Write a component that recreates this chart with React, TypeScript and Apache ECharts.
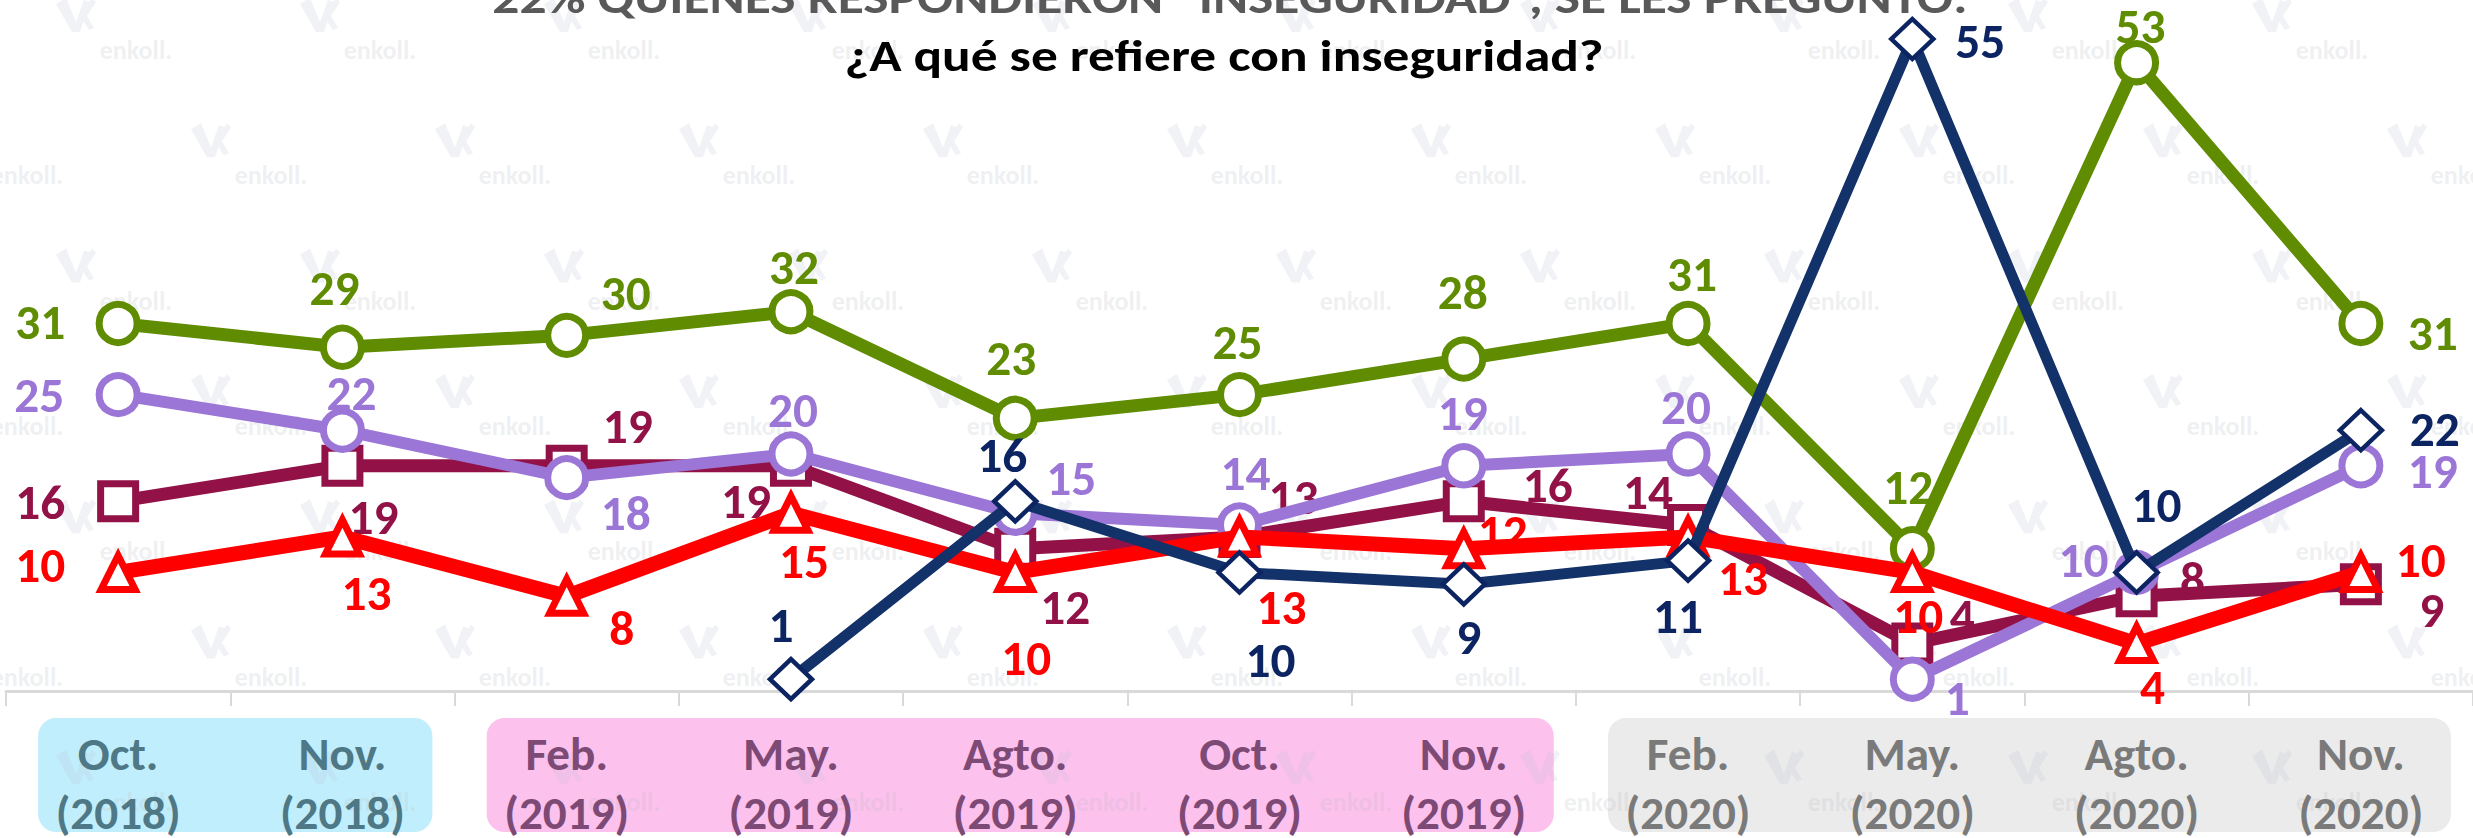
import React, { useEffect, useRef } from "react";
import * as echarts from "echarts";

// ---------- data ----------
const monthLabels = ["Oct.", "Nov.", "Feb.", "May.", "Agto.", "Oct.", "Nov.", "Feb.", "May.", "Agto.", "Nov."];
const yearLabels = ["(2018)", "(2018)", "(2019)", "(2019)", "(2019)", "(2019)", "(2019)", "(2020)", "(2020)", "(2020)", "(2020)"];
const categories = monthLabels.map((m, i) => m + " " + yearLabels[i]);
const yearGroupOfCategory = [0, 0, 1, 1, 1, 1, 1, 2, 2, 2, 2];

const greenValues = [31, 29, 30, 32, 23, 25, 28, 31, 12, 53, 31];
const purpleValues = [25, 22, 18, 20, 15, 14, 19, 20, 1, 10, 19];
const maroonValues = [16, 19, 19, 19, 12, 13, 16, 14, 4, 8, 9];
const redValues = [10, 13, 8, 15, 10, 13, 12, 13, 10, 4, 10];
const blueValues: (number | null)[] = [null, null, null, 1, 16, 10, 9, 11, 55, 10, 22];

const titleLine1 = "22% QUIENES RESPONDIERON “INSEGURIDAD”, SE LES PREGUNTÓ:";
const titleLine2 = "¿A qué se refiere con inseguridad?";

// ---------- label placement (offsets from the marker centre) ----------
const greenLabelOffsets = [[-78, -2], [-8, -59], [59, -42], [3, -45], [-4, -60], [-2, -53], [-1, -67], [4, -50], [-4, -62], [4, -37], [72, 9]];
const purpleLabelOffsets = [[-79, 0], [9, -37], [59, 35], [2, -44], [56, -35], [6, -52], [-1, -53], [-2, -47], [45, 19], [-53, -12], [72, 5]];
const maroonLabelOffsets = [[-78, 1], [31, 51], [61, -40], [-45, 35], [50, 58], [54, -40], [84, -16], [-40, -33], [50, -28], [56, -17], [71, 26]];
const redLabelOffsets = [[-78, -7], [24, 56], [55, 32], [13, 48], [11, 86], [42, 70], [39, -17], [55, 41], [6, 44], [16, 43], [60, -12]];
const blueLabelOffsets = [[0, 0], [0, 0], [0, 0], [-10, -54], [-13, -46], [31, 88], [5, 53], [-10, 55], [68, 2], [20, -67], [74, -1]];

// ---------- styles ----------
const FONT = "Carlito, 'Liberation Sans Narrow', 'Open Sans', sans-serif";
const groupBoxColors = ["#c1eefc", "#fdc1ee", "#ebebeb"];
const groupTextColors = ["#4e7886", "#7d4a76", "#7a7a7a"];
const WATERMARK_TEXT = "rgba(185,188,195,0.24)";
const WATERMARK_LOGO = "rgba(185,192,212,0.2)";

const LOGO_D =
  "M0 6 L10 0 L20 24 L28 2 L34 4 L24 34 L16 34 Z M24 18 L36 0 L40 4 L31 18 L38 30 L33 32 Z";
let logoRegistered = false;
function ensureLogo() {
  if (logoRegistered) return;
  echarts.graphic.registerShape("enkollLogo", echarts.graphic.extendPath(LOGO_D, {}) as any);
  logoRegistered = true;
}

function measure(text: string, px: number): number {
  const c = document.createElement("canvas").getContext("2d");
  if (!c) return 0;
  c.font = `bold ${px}px ${FONT}`;
  return c.measureText(text).width;
}

function clamp(v: number, lo: number, hi: number) {
  return Math.max(lo, Math.min(hi, v));
}

function makeSeries(
  name: string,
  values: (number | null)[],
  offsets: number[][],
  lineColor: string,
  borderColor: string,
  labelColor: string,
  symbol: string,
  symbolSize: number | number[],
  borderWidth: number,
  lineWidth: number,
  z: number,
  labelSize: number
) {
  return {
    name,
    type: "line",
    z,
    symbol,
    symbolSize,
    showAllSymbol: true,
    connectNulls: false,
    lineStyle: { color: lineColor, width: lineWidth, join: "round" },
    itemStyle: { color: "#ffffff", borderColor, borderWidth },
    label: {
      show: true,
      position: "inside",
      formatter: "{c}",
      fontFamily: FONT,
      fontWeight: "bold",
      fontSize: labelSize,
      color: labelColor,
    },
    emphasis: { disabled: true },
    data: values.map((v, i) =>
      v == null ? "-" : { value: v, label: { offset: offsets[i] } }
    ),
  };
}

export default function App() {
  const ref = useRef<HTMLDivElement>(null);

  useEffect(() => {
    document.body.style.margin = "0";
    if (!ref.current) return;
    ensureLogo();
    const chart = echarts.init(ref.current, undefined, { renderer: "svg" });

    // size fonts so that text widths follow the reference
    const wYear = measure("(2018)", 47);
    const axisFont = wYear > 0 ? clamp((47 * 125) / wYear, 40, 52) : 47;
    const wNum = measure("31", 50);
    const labelFont = wNum > 0 ? clamp((50 * 50) / wNum, 42, 56) : 50;
    const wT1 = measure(titleLine1, 45);
    const wT2 = measure(titleLine2, 45);
    const t1Scale = wT1 > 0 ? clamp(1475 / wT1, 0.8, 1.5) : 1.18;
    const t2Scale = wT2 > 0 ? clamp(759 / wT2, 0.8, 1.5) : 1.18;

    const rich: any = {};
    groupTextColors.forEach((c, g) => {
      rich["m" + g] = { color: c, fontSize: axisFont, fontWeight: "bold", fontFamily: FONT, lineHeight: 59 };
      rich["y" + g] = { color: c, fontSize: axisFont, fontWeight: "bold", fontFamily: FONT, lineHeight: 59 };
    });

    chart.setOption({
      animation: false,
      backgroundColor: "#ffffff",
      grid: { left: 6, right: 0, top: 39, bottom: 147, containLabel: false },
      xAxis: {
        type: "category",
        data: categories,
        boundaryGap: true,
        z: 5,
        axisLine: { show: true, lineStyle: { color: "#d9d9d9", width: 3 } },
        axisTick: { show: true, length: 15, lineStyle: { color: "#d9d9d9", width: 2 } },
        axisLabel: {
          interval: 0,
          margin: 33,
          formatter: (_v: string, i: number) => {
            const g = yearGroupOfCategory[i];
            return `{m${g}|${monthLabels[i]}}\n{y${g}|${yearLabels[i]}}`;
          },
          rich,
        },
      },
      yAxis: { type: "value", min: 0, max: 55, show: false, splitLine: { show: false } },
      series: [
        makeSeries("verde", greenValues, greenLabelOffsets, "#5f8c00", "#5f8c00", "#5f8c00", "circle", 38, 7, 13, 3, labelFont),
        makeSeries("guinda", maroonValues, maroonLabelOffsets, "#921248", "#921248", "#921248", "rect", 35, 7, 13, 4, labelFont),
        makeSeries("lila", purpleValues, purpleLabelOffsets, "#9b76d6", "#9b76d6", "#9b76d6", "circle", 38, 7, 12, 5, labelFont),
        makeSeries("rojo", redValues, redLabelOffsets, "#ff0000", "#ff0000", "#ff0000", "triangle", 34, 7, 15, 6, labelFont),
        makeSeries("azul", blueValues, blueLabelOffsets, "#14326a", "#0c2461", "#0c2461", "diamond", [42, 40], 4.5, 11, 7, labelFont),
      ],
    });

    // background period boxes, watermark and title
    const xOf = (i: number) => chart.convertToPixel({ xAxisIndex: 0 }, i) as number;
    const y0 = chart.convertToPixel({ yAxisIndex: 0 }, 0) as number;
    const groups = [
      [0, 1],
      [2, 6],
      [7, 10],
    ];
    const graphics: any[] = [];
    groups.forEach(([a, b], g) => {
      const x1 = xOf(a) - 80;
      const x2 = xOf(b) + 90;
      graphics.push({
        type: "rect",
        z: 0,
        silent: true,
        shape: { x: x1, y: y0 + 27, width: x2 - x1, height: 114, r: 18 },
        style: { fill: groupBoxColors[g] },
      });
    });
    for (let r = 0; r < 7; r++) {
      const y = 50 + 125.3 * r;
      const xStart = r % 2 === 0 ? 136 : 27;
      for (let k = -1; k < 12; k++) {
        const x = xStart + 244 * k;
        if (x < -120 || x > 2600) continue;
        graphics.push({
          type: "text",
          z: 1,
          silent: true,
          x,
          y,
          style: {
            text: "enkoll.",
            fill: WATERMARK_TEXT,
            font: `bold 26px ${FONT}`,
            align: "center",
            verticalAlign: "middle",
          },
        });
        graphics.push({
          type: "enkollLogo",
          z: 1,
          silent: true,
          x: x - 80,
          y: y - 52,
          scaleX: 1,
          scaleY: 1,
          style: { fill: WATERMARK_LOGO },
        });
      }
    }
    graphics.push({
      type: "text",
      z: 10,
      silent: true,
      x: 1230,
      y: -2,
      scaleX: t1Scale,
      style: {
        text: titleLine1,
        fill: "#595959",
        font: `bold 45px ${FONT}`,
        align: "center",
        verticalAlign: "middle",
      },
    });
    graphics.push({
      type: "text",
      z: 10,
      silent: true,
      x: 1224,
      y: 55,
      scaleX: t2Scale,
      style: {
        text: titleLine2,
        fill: "#000000",
        font: `bold 45px ${FONT}`,
        align: "center",
        verticalAlign: "middle",
      },
    });
    chart.setOption({ graphic: graphics });

    return () => chart.dispose();
  }, []);

  return <div ref={ref} style={{ width: 2473, height: 838 }} />;
}
